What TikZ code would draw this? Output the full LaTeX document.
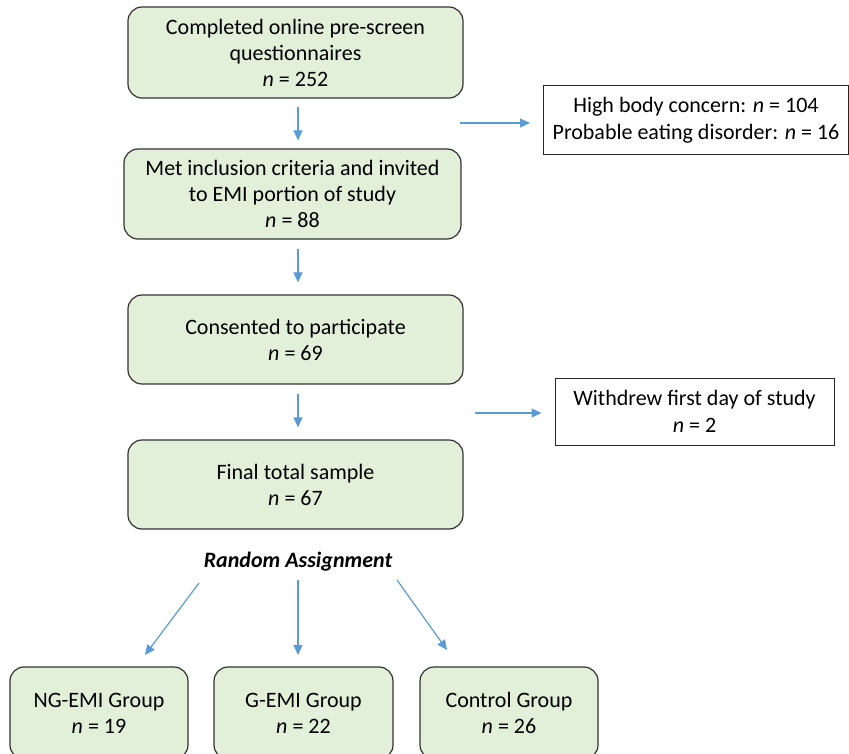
\documentclass[tikz,border=0pt]{standalone}
\usepackage{fontspec}
\setmainfont{Carlito}
\usetikzlibrary{arrows.meta,positioning}
\definecolor{stagegreen}{HTML}{E2EFD9}
\definecolor{flowblue}{HTML}{5B9BD5}
\tikzset{
  stagebox/.style={draw=black!80,line width=1.2pt,rounded corners=14pt,fill=stagegreen,align=center,font=\fontsize{22}{26}\selectfont,inner sep=0pt},
  sidebox/.style={draw=black!85,line width=1pt,fill=white,align=center,font=\fontsize{22}{27}\selectfont,inner sep=0pt},
  flowarrow/.style={draw=flowblue,line width=1.2pt,-{Triangle[length=10pt,width=9pt]}}
}

\begin{document}
\begin{tikzpicture}[x=1pt,y=-1pt]
\useasboundingbox (0,0) rectangle (849,754);
\node[stagebox,minimum width=335pt,minimum height=91pt] (prescreen) at (295.5,52.5) {Completed online pre-screen\\questionnaires\\\textit{n} = 252};
\node[stagebox,minimum width=337pt,minimum height=90pt] (invited) at (292.5,194) {Met inclusion criteria and invited\\to EMI portion of study\\\textit{n} = 88};
\node[stagebox,minimum width=335pt,minimum height=89pt] (consented) at (295.5,339.5) {Consented to participate\\\textit{n} = 69};
\node[stagebox,minimum width=335pt,minimum height=89pt] (final) at (295.5,484.5) {Final total sample\\\textit{n} = 67};
\node[sidebox,minimum width=305pt,minimum height=69pt] (excluded) at (696,120.5) {High body concern: \textit{n} = 104\\Probable eating disorder: \textit{n} = 16};
\node[sidebox,minimum width=279pt,minimum height=67pt] (withdrew) at (694.5,411.5) {Withdrew first day of study\\\textit{n} = 2};
\node[font=\fontsize{22}{24}\selectfont\bfseries\itshape] (random) at (298,562) {Random Assignment};
\node[stagebox,minimum width=178pt,minimum height=92pt] (ngemi) at (99,713) {NG-EMI Group\\\textit{n} = 19};
\node[stagebox,minimum width=179pt,minimum height=92pt] (gemi) at (303.5,713) {G-EMI Group\\\textit{n} = 22};
\node[stagebox,minimum width=178pt,minimum height=92pt] (control) at (509,713) {Control Group\\\textit{n} = 26};
% side arrows start in open space
\coordinate (side1) at (460,123);
\coordinate (side2) at (475,413);
% assignment arrows
\coordinate (ra1) at (199,583);
\coordinate (ra2) at (298,580);
\coordinate (ra3) at (397,580);
\coordinate (rb1) at (145,655);
\coordinate (rb2) at (298,655);
\coordinate (rb3) at (447,650);
\draw[flowarrow,shorten <=8pt,shorten >=8pt] (prescreen.south-|298,0) -- (invited.north-|298,0);
\draw[flowarrow,shorten <=9pt,shorten >=12pt] (invited.south-|298,0) -- (consented.north-|298,0);
\draw[flowarrow,shorten <=9pt,shorten >=12pt] (consented.south-|298,0) -- (final.north-|298,0);
\draw[flowarrow,shorten >=13pt] (side1) -- (side1-|excluded.west);
\draw[flowarrow,shorten >=13pt] (side2) -- (side2-|withdrew.west);
\draw[flowarrow] (ra1) -- (rb1);
\draw[flowarrow] (ra2) -- (rb2);
\draw[flowarrow] (ra3) -- (rb3);
\end{tikzpicture}
\end{document}
